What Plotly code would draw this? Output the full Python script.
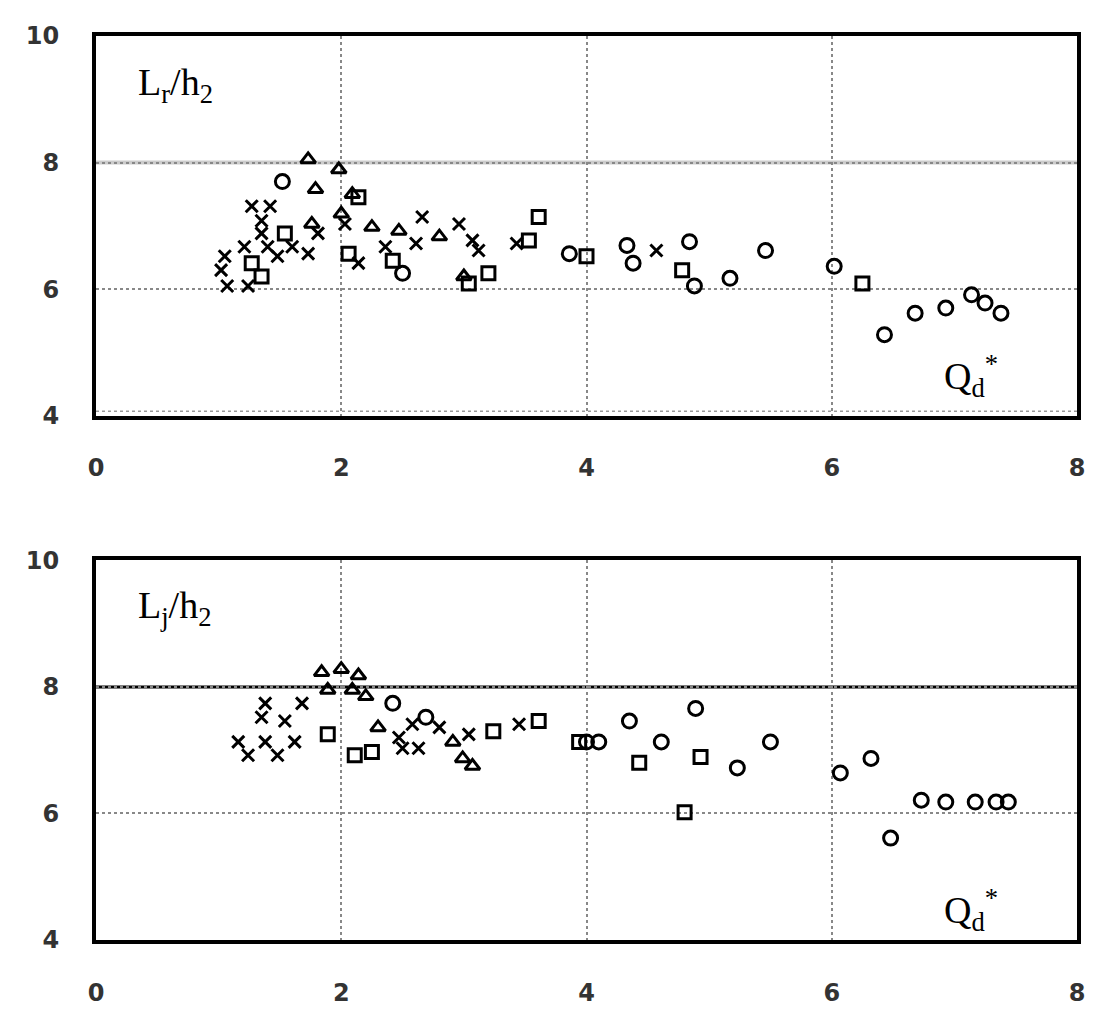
import plotly.graph_objects as go
from plotly.subplots import make_subplots

# ---- Data ----
x_ticks = [0, 2, 4, 6, 8]
y_ticks = [4, 6, 8, 10]

# Top panel: Lr/h2 vs Qd*
top_circle_x = [4.33, 4.38, 4.84, 4.88, 5.17, 5.46, 6.02, 6.43, 6.68, 6.93, 7.14, 7.25, 7.38, 3.86, 2.50, 1.52]
top_circle_y = [6.69, 6.41, 6.75, 6.05, 6.17, 6.61, 6.36, 5.28, 5.62, 5.70, 5.91, 5.78, 5.62, 6.56, 6.25, 7.70]
top_square_x = [3.61, 4.00, 4.78, 6.25, 3.04, 3.20, 1.27, 1.35, 2.14, 2.06, 2.42, 3.53, 1.54]
top_square_y = [7.14, 6.52, 6.30, 6.09, 6.09, 6.25, 6.41, 6.20, 7.45, 6.56, 6.45, 6.77, 6.88]
top_tri_x = [1.73, 1.79, 1.98, 2.09, 2.00, 2.25, 2.47, 2.80, 3.00, 1.76]
top_tri_y = [8.05, 7.58, 7.89, 7.50, 7.19, 6.98, 6.92, 6.83, 6.20, 7.03]
top_cross_x = [1.27, 1.42, 1.35, 1.35, 1.81, 1.21, 1.40, 1.60, 1.05, 1.02, 1.07, 1.24, 1.48, 1.73,
               2.03, 2.14, 2.36, 2.61, 2.66, 2.96, 3.07, 3.12, 3.43, 4.57]
top_cross_y = [7.31, 7.31, 7.08, 6.88, 6.88, 6.67, 6.67, 6.67, 6.52, 6.30, 6.05, 6.05, 6.52, 6.56,
               7.03, 6.41, 6.67, 6.72, 7.14, 7.03, 6.77, 6.61, 6.72, 6.61]

# Bottom panel: Lj/h2 vs Qd*
bot_circle_x = [4.89, 4.35, 4.10, 4.61, 5.23, 5.50, 6.07, 6.32, 6.48, 6.73, 6.93, 7.17, 7.34, 7.44, 4.00, 2.69, 2.42]
bot_circle_y = [7.66, 7.46, 7.13, 7.13, 6.72, 7.13, 6.64, 6.87, 5.61, 6.21, 6.18, 6.18, 6.18, 6.18, 7.13, 7.52, 7.74]
bot_square_x = [4.43, 4.93, 4.80, 3.94, 3.61, 2.11, 2.25, 3.24, 1.89]
bot_square_y = [6.80, 6.89, 6.02, 7.13, 7.46, 6.92, 6.97, 7.30, 7.25]
bot_tri_x = [1.84, 2.00, 2.14, 1.89, 2.09, 2.20, 2.30, 2.91, 3.07, 2.99]
bot_tri_y = [8.23, 8.28, 8.18, 7.95, 7.95, 7.85, 7.36, 7.13, 6.75, 6.87]
bot_cross_x = [1.38, 1.35, 1.54, 1.68, 1.16, 1.24, 1.48, 1.38, 1.62, 2.50, 2.58, 2.80, 3.04, 3.45, 2.47, 2.63]
bot_cross_y = [7.74, 7.52, 7.46, 7.74, 7.13, 6.92, 6.92, 7.13, 7.13, 7.03, 7.41, 7.36, 7.25, 7.41, 7.20, 7.03]

fig = make_subplots(rows=2, cols=1, vertical_spacing=0.16)

def add_series(row, xs, ys, symbol, size):
    fig.add_trace(go.Scatter(
        x=xs, y=ys, mode="markers", showlegend=False,
        marker=dict(symbol=symbol, size=size, color="black",
                    line=dict(color="black", width=3)),
    ), row=row, col=1)

add_series(1, top_circle_x, top_circle_y, "circle-open", 14)
add_series(1, top_square_x, top_square_y, "square-open", 13)
add_series(1, top_tri_x, top_tri_y, "triangle-up-open", 13)
add_series(1, top_cross_x, top_cross_y, "x-thin-open", 12)
add_series(2, bot_circle_x, bot_circle_y, "circle-open", 14)
add_series(2, bot_square_x, bot_square_y, "square-open", 13)
add_series(2, bot_tri_x, bot_tri_y, "triangle-up-open", 13)
add_series(2, bot_cross_x, bot_cross_y, "x-thin-open", 12)

tick_font = dict(family="DejaVu Sans", size=24, color="#333", weight="bold")
for r in (1, 2):
    fig.update_xaxes(range=[0, 8], tickvals=x_ticks, ticktext=[str(v) for v in x_ticks],
                     showgrid=True, gridcolor="#888", griddash="dot", gridwidth=1.5,
                     showline=True, linecolor="black", linewidth=4, mirror=True,
                     zeroline=False, ticks="", ticklabelstandoff=28,
                     tickfont=tick_font, row=r, col=1)
    fig.update_yaxes(range=[4, 10], tickvals=y_ticks, ticktext=[str(v) for v in y_ticks],
                     showgrid=True, gridcolor="#888", griddash="dot", gridwidth=1.5,
                     showline=True, linecolor="black", linewidth=4, mirror=True,
                     zeroline=False, ticks="", ticklabelstandoff=28,
                     tickfont=tick_font, row=r, col=1)

# special horizontal lines at y=8
fig.add_shape(type="line", xref="x", yref="y", x0=0, x1=8, y0=8, y1=8,
              line=dict(color="#cccccc", width=4), layer="below")
fig.add_shape(type="line", xref="x2", yref="y2", x0=0, x1=8, y0=8, y1=8,
              line=dict(color="black", width=3), layer="below")
# faint inner dotted line just above bottom frame of top panel
fig.add_shape(type="line", xref="x", yref="y", x0=0, x1=8, y0=4.07, y1=4.07,
              line=dict(color="#999", width=1.5, dash="dot"), layer="below")

serif = dict(family="Liberation Serif", size=38, color="black")
fig.add_annotation(xref="x", yref="y", x=0.33, y=9.22, text="L<sub>r</sub>/h<sub>2</sub>",
                   showarrow=False, xanchor="left", yanchor="middle", font=serif)
fig.add_annotation(xref="x2", yref="y2", x=0.33, y=9.25, text="L<sub>j</sub>/h<sub>2</sub>",
                   showarrow=False, xanchor="left", yanchor="middle", font=serif)
fig.add_annotation(xref="x", yref="y", x=6.9, y=4.62, text="Q<sub>d</sub><sup>*</sup>",
                   showarrow=False, xanchor="left", yanchor="middle", font=serif,
                   bgcolor="white")
fig.add_annotation(xref="x2", yref="y2", x=6.9, y=4.48, text="Q<sub>d</sub><sup>*</sup>",
                   showarrow=False, xanchor="left", yanchor="middle", font=serif,
                   bgcolor="white")

fig.update_layout(
    width=1095, height=1016,
    margin=dict(l=88, r=26, t=28, b=84),
    paper_bgcolor="white", plot_bgcolor="white",
)
fig.write_html("out.html")
